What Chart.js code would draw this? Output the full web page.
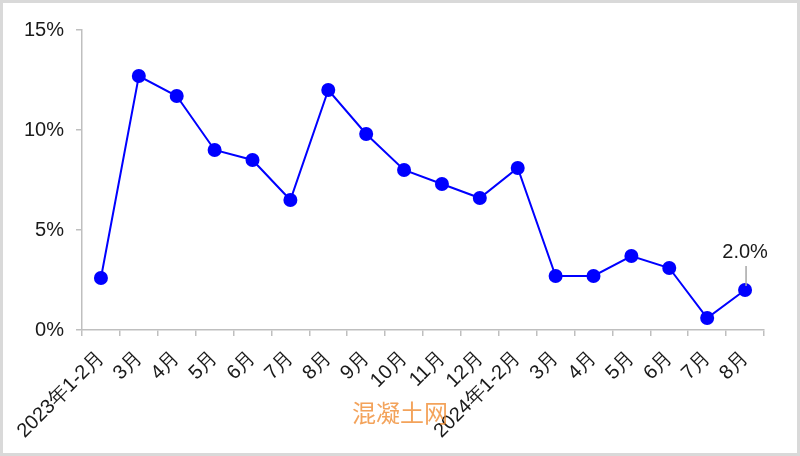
<!DOCTYPE html>
<html>
<head>
<meta charset="utf-8">
<script src="https://cdn.jsdelivr.net/npm/chart.js@4"></script>
<style>
  html, body { margin: 0; padding: 0; background: #fff; }
  #wrap { width: 800px; height: 456px; position: relative; }
</style>
</head>
<body>
<div id="wrap"><canvas id="myChart" width="800" height="456"></canvas></div>
<script>
const months = ['2023年1-2月', '3月', '4月', '5月', '6月', '7月', '8月', '9月', '10月', '11月', '12月',
    '2024年1-2月', '3月', '4月', '5月', '6月', '7月', '8月'];
const growth = [2.6, 12.7, 11.7, 9.0, 8.5, 6.5, 12.0, 9.8, 8.0, 7.3, 6.6, 8.1, 2.7, 2.7, 3.7, 3.1, 0.6, 2.0];
const yTicks = [0, 5, 10, 15];
const lastLabel = '2.0%';
const watermark = '混凝土网';

const axisColor = '#bfbfbf';
const textColor = '#1a1a1a';
const font = 'Liberation Sans, Arial, sans-serif';

const extras = {
    id: 'extras',
    afterDatasetsDraw(chart) {
        const c = chart.ctx;
        const x = chart.scales.x;
        const y = chart.scales.y;
        const i = growth.length - 1;
        const px = x.getPixelForValue(i);
        const py = y.getPixelForValue(growth[i]);
        c.save();
        // leader line + label on the last point
        c.strokeStyle = '#a6a6a6';
        c.lineWidth = 1.5;
        c.beginPath();
        c.moveTo(px + 1, py - 24);
        c.lineTo(px + 1, py - 4);
        c.stroke();
        c.fillStyle = textColor;
        c.font = '20px ' + font;
        c.textAlign = 'center';
        c.textBaseline = 'middle';
        c.fillText(lastLabel, px, py - 38);
        c.restore();
    },
    afterDraw(chart) {
        const c = chart.ctx;
        c.save();
        c.fillStyle = 'rgba(240, 140, 50, 0.8)';
        c.font = '24px "Noto Sans CJK SC", sans-serif';
        c.textAlign = 'center';
        c.textBaseline = 'middle';
        c.fillText(watermark, 400, 413);
        c.strokeStyle = '#d9d9d9';
        c.lineWidth = 3;
        c.strokeRect(1.5, 1.5, chart.width - 3, chart.height - 3);
        c.restore();
    }
};

const ctx = document.getElementById('myChart').getContext('2d');
const chart = new Chart(ctx, {
    type: 'line',
    data: {
        labels: months,
        datasets: [
            {
                data: growth,
                borderColor: '#0000ff',
                backgroundColor: '#0000ff',
                borderWidth: 2,
                pointRadius: 7,
                pointBorderWidth: 0,
                pointBackgroundColor: '#0000ff',
                fill: false,
                tension: 0
            }
        ]
    },
    options: {
        responsive: false,
        animation: false,
        layout: {
            padding: { left: 0, right: 36, top: 30, bottom: 0 }
        },
        scales: {
            x: {
                offset: true,
                grid: {
                    display: true,
                    offset: true,
                    drawOnChartArea: false,
                    drawTicks: true,
                    tickLength: 6,
                    color: axisColor,
                    lineWidth: 1.5
                },
                border: { color: axisColor, width: 1.5 },
                ticks: {
                    autoSkip: false,
                    minRotation: 45,
                    maxRotation: 45,
                    padding: 10,
                    color: textColor,
                    font: { size: 20, family: font }
                },
                afterFit(scale) {
                    scale.height = 126;
                }
            },
            y: {
                min: 0,
                max: 15,
                afterBuildTicks(scale) {
                    scale.ticks = yTicks.map(v => ({ value: v }));
                },
                grid: {
                    display: true,
                    drawOnChartArea: false,
                    drawTicks: true,
                    tickLength: 6,
                    color: axisColor,
                    lineWidth: 1.5
                },
                border: { color: axisColor, width: 1.5 },
                ticks: {
                    padding: 12,
                    color: textColor,
                    font: { size: 20, family: font },
                    callback: v => v + '%'
                },
                afterFit(scale) {
                    scale.width = 82;
                }
            }
        },
        plugins: {
            legend: { display: false },
            tooltip: { enabled: false }
        }
    },
    plugins: [extras]
});
</script>
</body>
</html>
